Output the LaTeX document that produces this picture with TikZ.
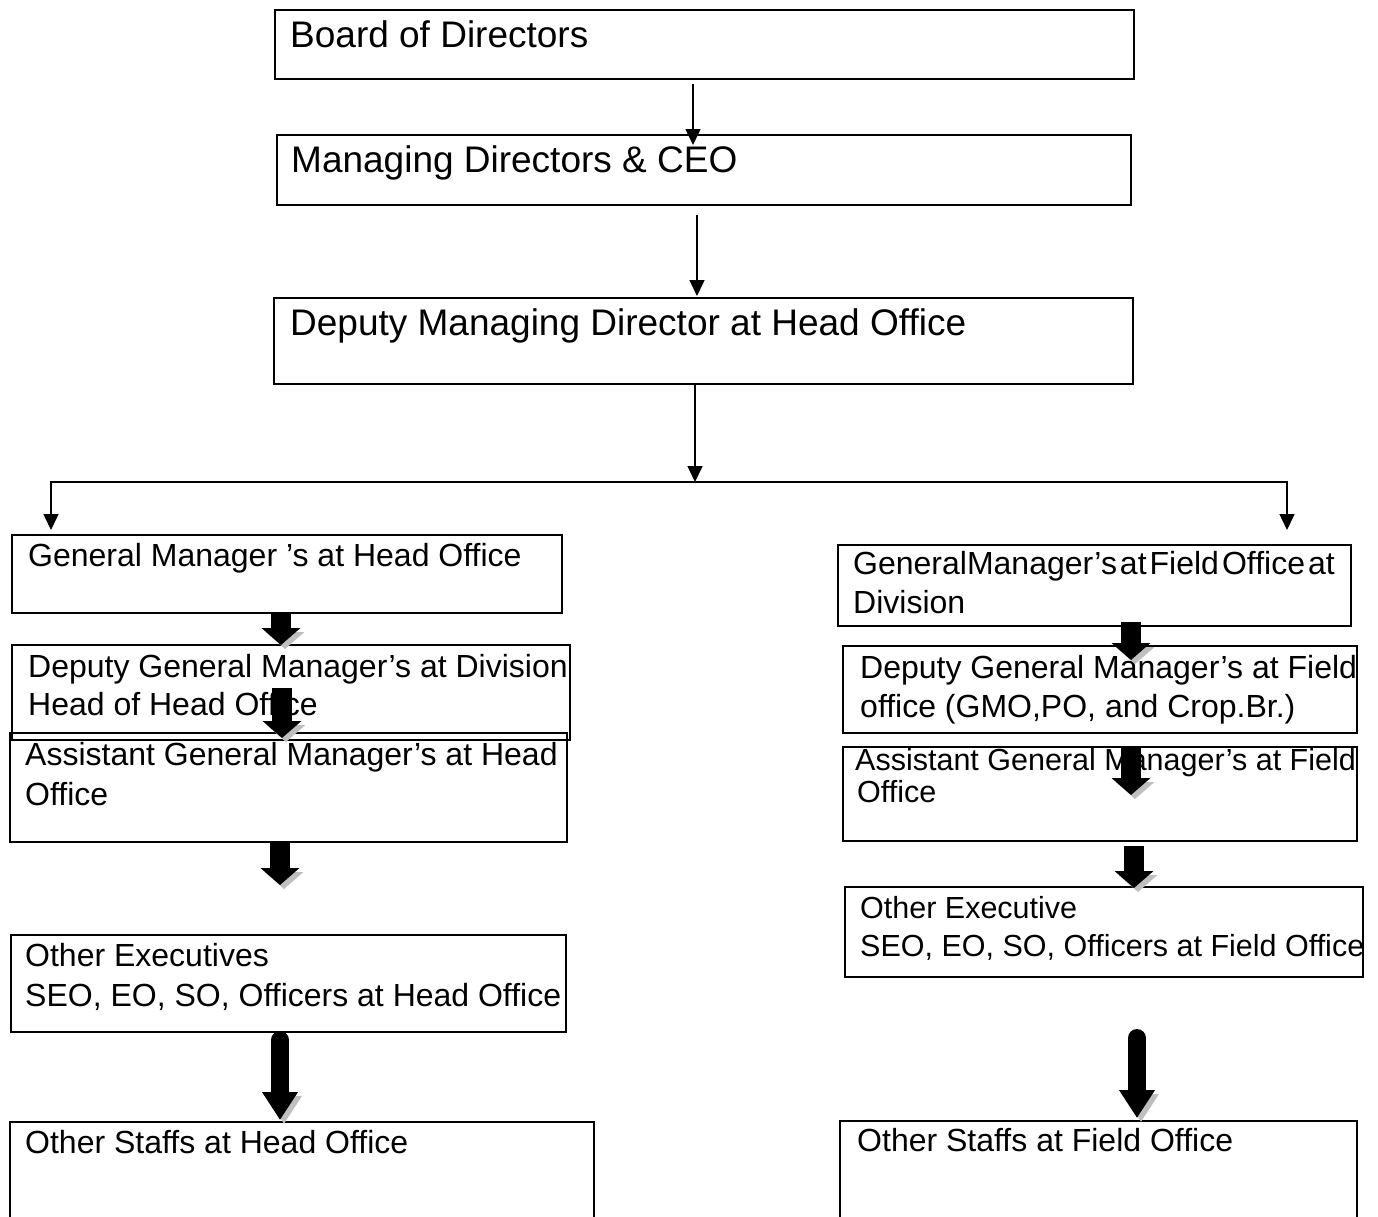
\documentclass[tikz,border=0pt]{standalone}
\usepackage{fontspec}
\setmainfont{Liberation Sans}
\usetikzlibrary{arrows.meta}

\tikzset{
  orgbox/.style={draw, line width=1.3pt, anchor=north west, inner sep=0pt, outer sep=0pt},
  bigtext/.style={anchor=base west, inner sep=0pt, font=\fontsize{37}{44}\selectfont},
  smalltext/.style={anchor=base west, inner sep=0pt, font=\fontsize{32}{39}\selectfont},
  narrowtext/.style={anchor=base west, inner sep=0pt, font=\fontsize{30.5}{37}\selectfont},
  thinarrow/.style={-{Triangle[width=15pt,length=16pt]}, line width=1.5pt},
  fatarrow/.style={-{Triangle[width=38pt,length=17pt]}, line width=20pt,
    preaction={draw=black!25, transform canvas={shift={(4pt,-4pt)}}}},
  longarrow/.style={-{Triangle[width=34pt,length=28pt]}, line width=18pt, line cap=round,
    preaction={draw=black!25, transform canvas={shift={(4pt,-4pt)}}}}
}

\begin{document}
\begin{tikzpicture}[x=1pt, y=-1pt]
\useasboundingbox (0,0) rectangle (1378,1216);

% top of the chart
\node[orgbox, minimum width=859pt, minimum height=69pt] (board) at (275,10) {};
\node[orgbox, minimum width=854pt, minimum height=70pt] (md) at (277,135) {};
\node[orgbox, minimum width=859pt, minimum height=86pt] (dmd) at (274,298) {};
\node[bigtext] (boardtxt) at (290,47) {Board of Directors};
\node[bigtext] (mdtxt) at (291,172) {Managing Directors \& CEO};
\node[bigtext] (dmdtxt) at (290,335) {Deputy Managing Director at Head Office};

% head office side
\node[orgbox, minimum width=550pt, minimum height=78pt] (gmho) at (12,535) {};
\node[orgbox, minimum width=558pt, minimum height=95pt] (dgmho) at (12,645) {};
\node[orgbox, minimum width=557pt, minimum height=109pt] (agmho) at (10,733) {};
\node[orgbox, minimum width=555pt, minimum height=97pt] (oeho) at (11,935) {};
\node[orgbox, minimum width=584pt, minimum height=110pt] (osho) at (10,1122) {};
\node[smalltext] (gmhotxt) at (28,566) {General Manager ’s at Head Office};
\node[smalltext] (dgmhotxta) at (28,677) {Deputy General Manager’s at Division};
\node[smalltext] (dgmhotxtb) at (28,715) {Head of Head Office};
\node[smalltext] (agmhotxta) at (25,765) {Assistant General Manager’s at Head};
\node[smalltext] (agmhotxtb) at (25,805) {Office};
\node[smalltext] (oehotxta) at (25,966) {Other Executives};
\node[smalltext] (oehotxtb) at (25,1006) {SEO, EO, SO, Officers at Head Office};
\node[smalltext] (oshotxt) at (25,1153) {Other Staffs at Head Office};

% field office side
\node[orgbox, minimum width=513pt, minimum height=81pt] (gmfo) at (838,545) {};
\node[orgbox, minimum width=514pt, minimum height=87pt] (dgmfo) at (843,646) {};
\node[orgbox, minimum width=514pt, minimum height=94pt] (agmfo) at (843,747) {};
\node[orgbox, minimum width=518pt, minimum height=90pt] (oefo) at (845,887) {};
\node[orgbox, minimum width=517pt, minimum height=110pt] (osfo) at (840,1121) {};
\node[smalltext] (gmfotxta) at (853,574) {GeneralManager’s\hspace{3pt}at\hspace{3pt}Field\hspace{3pt}Office\hspace{3pt}at};
\node[smalltext] (gmfotxtb) at (853,613) {Division};
\node[smalltext] (dgmfotxta) at (860,678) {Deputy General Manager’s at Field};
\node[smalltext] (dgmfotxtb) at (860,717) {office (GMO,PO, and Crop.Br.)};
\node[narrowtext] (agmfotxta) at (855,770) {Assistant General Manager’s at Field};
\node[narrowtext] (agmfotxtb) at (857,802) {Office};
\node[narrowtext] (oefotxta) at (860,918) {Other Executive};
\node[narrowtext] (oefotxtb) at (860,956) {SEO, EO, SO, Officers at Field Office};
\node[smalltext] (osfotxt) at (857,1151) {Other Staffs at Field Office};

% thin connectors
\coordinate (split) at (695,482);
\coordinate (gmhoin) at (51,530);
\coordinate (gmfoin) at (1287,530);
\draw[thinarrow] ([xshift=-11.5pt,yshift=-5pt]board.south) -- ([xshift=-11pt,yshift=-10pt]md.north);
\draw[thinarrow] ([xshift=-7pt,yshift=-10pt]md.south) -- ([xshift=-6.5pt,yshift=2pt]dmd.north);
\draw[thinarrow] ([xshift=-8.5pt]dmd.south) -- (split);
\draw[thinarrow] (split) -| (gmhoin);
\draw[thinarrow] (split) -| (gmfoin);

% block arrows
\draw[fatarrow] ([xshift=-6pt]gmho.south) -- ([xshift=-10pt]dgmho.north);
\draw[fatarrow] ([xshift=-9pt,yshift=52pt]dgmho.south) -- ([xshift=-6.5pt,yshift=-5pt]agmho.north);
\draw[fatarrow] ([xshift=-8.5pt]agmho.south) -- ([xshift=-8.5pt,yshift=50pt]oeho.north);
\draw[longarrow] ([xshift=-8.5pt,yshift=-8pt]oeho.south) -- ([xshift=-22pt,yshift=2pt]osho.north);
\draw[fatarrow] ([xshift=36.5pt,yshift=4pt]gmfo.south) -- ([xshift=31pt,yshift=-14pt]dgmfo.north);
\draw[fatarrow] ([xshift=31pt]agmfo.north) -- ([xshift=31pt,yshift=-48pt]agmfo.north);
\draw[fatarrow] ([xshift=34pt,yshift=-5pt]agmfo.south) -- ([xshift=30pt,yshift=-1pt]oefo.north);
\draw[longarrow] ([xshift=33pt,yshift=-61pt]oefo.south) -- ([xshift=38.5pt,yshift=3pt]osfo.north);
\end{tikzpicture}
\end{document}
